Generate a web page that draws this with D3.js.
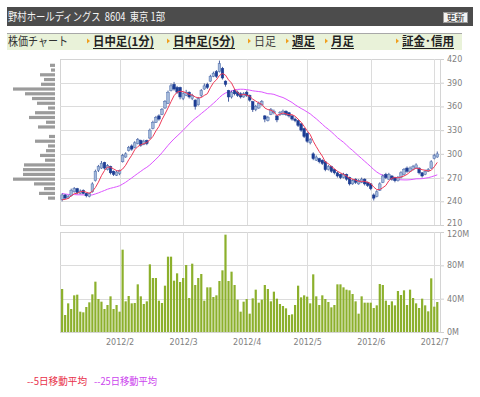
<!DOCTYPE html>
<html><head><meta charset="utf-8">
<script src="https://cdn.jsdelivr.net/npm/d3@7"></script>
<style>body{margin:0;background:#fff;} svg{display:block;}</style>
</head><body><svg id="c" width="480" height="397"></svg>
<script>
// ---- data ----
const prevCloses = [262,258,255,260,257,254,252,256,253,250,248,251,249,246,244,247,250,252,248,245,242,240,238,242];
const opens = [242,248,244,247,252,256,250,254,250,246,252,266,279,282,289,280,284,278,273,275,
  290,296,304,310,308,313,317,312,317,320,332,340,348,350,358,364,380,388,384,384,
  370,374,378,370,368,362,374,382,388,392,398,404,404,408,392,380,372,380,378,376,
  372,378,374,366,356,358,362,348,342,350,352,348,350,350,354,352,348,344,342,338,
  332,326,314,300,292,294,292,290,280,284,280,276,274,270,274,270,262,268,262,264,
  268,264,262,248,246,254,264,274,268,272,270,266,270,274,282,278,280,282,282,276,
  274,278,282,294,296];
const highs = [250,249,248,256,258,257,255,255,251,251,264,280,286,291,290,287,285,279,279,280,
  300,302,310,312,316,320,318,318,318,332,342,348,350,358,368,380,389,391,386,385,
  378,381,379,376,369,372,382,389,390,400,404,406,418,410,393,381,380,382,380,378,
  378,380,375,367,362,366,368,349,348,358,356,349,354,356,355,353,349,346,343,339,
  333,327,320,302,298,295,293,291,286,285,281,278,275,276,275,271,268,269,268,270,
  269,265,263,250,254,264,274,276,276,273,271,272,278,282,284,284,286,288,283,277,
  280,282,292,300,303];
const lows = [240,243,243,246,251,249,249,249,245,245,251,265,277,281,280,279,274,272,272,273,
  289,295,303,304,307,312,309,311,311,319,331,339,342,349,357,363,379,380,376,369,
  368,373,370,368,356,361,372,381,382,391,397,396,403,394,385,366,370,374,372,370,
  371,372,366,353,354,357,361,340,341,349,350,340,348,349,348,346,342,340,334,328,
  320,314,312,292,291,288,286,278,279,276,274,270,268,269,266,260,261,262,261,263,
  260,258,254,241,245,253,263,268,267,266,264,265,269,273,276,277,279,281,274,270,
  273,277,281,293,295];
const closes = [248,244,246,254,256,251,253,250,247,250,262,278,284,288,282,285,276,274,277,279,
  298,300,308,306,314,318,311,316,313,330,340,346,344,356,366,378,386,382,378,372,
  376,378,372,374,360,370,380,386,384,398,402,398,414,396,388,372,378,376,374,372,
  376,374,368,356,360,364,366,344,346,356,354,343,352,354,350,348,344,342,336,330,
  322,316,318,294,296,290,288,280,284,278,276,272,270,274,268,262,266,264,266,268,
  262,260,256,244,252,262,272,270,274,268,266,270,276,280,278,282,284,286,276,272,
  278,280,290,298,300];
const volumes = [51.6,20.4,34.4,27.6,44,44.8,24.4,23.6,30,35.6,45.2,60.4,39.6,36.4,27.6,32.4,42.8,27.6,32.4,24.4,
  98.8,36.8,43.2,34.4,34.8,57.2,42.8,33.6,36.8,81.2,64.8,64.8,37.6,34.8,55.6,90.4,90.4,61.6,70.4,60,
  64.8,80.4,40.8,82,56.4,64.8,69.6,37.6,53.6,53.6,42,44,61.2,74,116.8,61.2,72.4,56.4,38.8,24.4,
  36.4,39.6,22,40.4,50.8,35.2,38.8,56.4,51.6,36.8,48.4,40,33.6,31.2,28.4,20.4,21.2,32.4,55.6,41.6,
  44,42.4,34.4,69.2,42.8,32.4,44,39.6,36,29.6,32.4,57.2,57.2,53.6,50.8,50,45.6,36.8,22,42.8,
  35.2,35.2,35.2,28.8,32,57.6,56.4,37.6,32.4,36.8,32,49.2,44.4,50,32.4,50.8,40.8,34.4,28.8,40,
  32,24.8,64.4,30.4,36];
const monthTickIndex = [19,40,61,81,102,123];
const monthTickLabels = ["2012/2","2012/3","2012/4","2012/5","2012/6","2012/7"];
const priceTicks = [210,240,270,300,330,360,390,420];
const volumeTicks = [0,40,80,120];
const profilePrices = [412,406,400,394,388,382,376,370,364,358,352,346,340,334,328,322,316,310,304,298,292,286,280,274,268,262,256,250,244];
const profileVolumes = [5,4,15,11,14,42,30,23,18,7,20,26,9,17,0,6,20,7,9,15,10,31,32,32,42,21,11,16,7];
const titleText = "野村ホールディングス  8604  東京 1部";
const navItems = ["日中足(1分)","日中足(5分)","日足","週足","月足","証金･信用"];
const legendLabels = ["--5日移動平均","--25日移動平均"];

// ---- layout ----
const svg = d3.select("#c");
const FONT = '"Noto Sans CJK JP","Noto Sans",sans-serif';
const AX = '"DejaVu Sans",sans-serif';
const L = 60, R = 441;
const pTop = 59, pBot = 225, vTop = 232, vBot = 332;

// header
svg.append("rect").attr("x",7).attr("y",7).attr("width",466).attr("height",19).attr("fill","#4c4c4c");
svg.append("text").attr("x",8).attr("y",21).attr("fill","#f4f4f4")
  .attr("font-family",FONT).attr("font-size",11.5).attr("xml:space","preserve")
  .attr("textLength",157).attr("lengthAdjust","spacingAndGlyphs").text(titleText);
svg.append("rect").attr("x",443.5).attr("y",12.5).attr("width",24).attr("height",10)
  .attr("fill","#f2f2f2").attr("stroke","#999");
svg.append("text").attr("x",455.5).attr("y",21).attr("text-anchor","middle").attr("font-family",FONT)
  .attr("font-size",9).attr("fill","#222").text("更新");

// nav bar
svg.append("rect").attr("x",7).attr("y",33).attr("width",455).attr("height",17).attr("fill","#e9f2d9");
svg.append("line").attr("x1",7).attr("x2",462).attr("y1",33.5).attr("y2",33.5).attr("stroke","#a8a8a8");
svg.append("text").attr("x",8).attr("y",46).attr("font-family",FONT).attr("font-size",12)
  .attr("fill","#333").attr("textLength",60).attr("lengthAdjust","spacingAndGlyphs").text("株価チャート");
const navX = [93,173,254,292,331,402];
const navW = [61,62,22,23,23,52];
const navLink = [true,true,false,true,true,true];
navItems.forEach((t,k)=>{
  svg.append("path").attr("d",`M${navX[k]-6},${38.5}L${navX[k]-3},${41}L${navX[k]-6},${43.5}Z`).attr("fill","#f0a020");
  svg.append("text").attr("x",navX[k]).attr("y",46).attr("font-family",FONT).attr("font-size",12)
    .attr("font-weight",navLink[k]?"bold":"normal").attr("fill",navLink[k]?"#222":"#444")
    .attr("textLength",navW[k]).attr("lengthAdjust","spacingAndGlyphs").text(t);
  if(navLink[k]) svg.append("line").attr("x1",navX[k]).attr("x2",navX[k]+navW[k])
    .attr("y1",48.5).attr("y2",48.5).attr("stroke","#222").attr("stroke-width",1);
});

// scales
const n = closes.length;
const x = d3.scaleLinear().domain([-0.7, n - 0.1]).range([L, 440]);
const y = d3.scaleLinear().domain([210,420]).range([pBot,pTop]);
const yv = d3.scaleLinear().domain([0,120]).range([vBot,vTop]);
const pw = d3.scaleLinear().domain([0,42]).range([0,42]);

// panels
const grid = "#dcdcdc";
[[pTop,pBot],[vTop,vBot]].forEach(([t,b])=>{
  svg.append("rect").attr("x",L+0.5).attr("y",t+0.5).attr("width",R-L-1).attr("height",b-t)
    .attr("fill","#fff").attr("stroke","#d4d4d4");
  svg.append("g").selectAll("line").data(monthTickIndex).join("line")
    .attr("x1",d=>Math.round(x(d))+0.5).attr("x2",d=>Math.round(x(d))+0.5)
    .attr("y1",t).attr("y2",b).attr("stroke",grid);
});
svg.append("g").selectAll("line").data(priceTicks.slice(1,-1)).join("line")
  .attr("x1",L).attr("x2",R).attr("y1",d=>Math.round(y(d))+0.5).attr("y2",d=>Math.round(y(d))+0.5).attr("stroke",grid);
svg.append("g").selectAll("line").data(volumeTicks.slice(1,-1)).join("line")
  .attr("x1",L).attr("x2",R).attr("y1",d=>Math.round(yv(d))+0.5).attr("y2",d=>Math.round(yv(d))+0.5).attr("stroke",grid);

// axes
function styleAxis(g){
  g.select(".domain").remove();
  g.selectAll(".tick line").attr("stroke","#cfcfcf");
  g.selectAll("text").attr("fill","#808080").attr("font-family",AX).attr("font-size",8);
}
const pAx = svg.append("g").attr("transform",`translate(${R},0)`)
  .call(d3.axisRight(y).tickValues(priceTicks).tickSize(3).tickPadding(3)).call(styleAxis);
pAx.selectAll(".tick").filter(d=>d===210).select("text").attr("dy","0.1em");
const vAx = svg.append("g").attr("transform",`translate(${R},0)`)
  .call(d3.axisRight(yv).tickValues(volumeTicks).tickFormat(d=>d+"M").tickSize(3).tickPadding(3)).call(styleAxis);
vAx.selectAll(".tick").filter(d=>d===120).select("text").attr("dy","0.55em");
svg.append("g").attr("transform",`translate(0,${vBot})`)
  .call(d3.axisBottom(x).tickValues(monthTickIndex).tickFormat((d,k)=>monthTickLabels[k]).tickSize(0).tickPadding(7))
  .call(styleAxis);

// volume profile
svg.append("g").selectAll("rect").data(profilePrices).join("rect")
  .attr("x",(d,k)=>55-pw(profileVolumes[k])).attr("width",(d,k)=>pw(profileVolumes[k]))
  .attr("y",d=>y(d)-1.6).attr("height",3.2).attr("fill","#9b9b9b");

// moving averages
const all = prevCloses.concat(closes);
const off = prevCloses.length;
function ma(p){ return closes.map((c,i)=>d3.mean(all.slice(off+i-p+1, off+i+1))); }
const ma5 = ma(5), ma25 = ma(25);
const line = d3.line().x((d,i)=>x(i)).y(d=>y(d));
svg.append("path").attr("d",line(ma25)).attr("fill","none").attr("stroke","#dd55ff").attr("stroke-width",1);

// candles
const cg = svg.append("g");
closes.forEach((c,i)=>{
  const o = opens[i], up = c >= o;
  const xc = x(i);
  cg.append("line").attr("x1",xc).attr("x2",xc).attr("y1",y(highs[i])).attr("y2",y(lows[i]))
    .attr("stroke","#1e3a88").attr("stroke-width",0.8);
  const top = y(Math.max(o,c)), bot = y(Math.min(o,c));
  cg.append("rect").attr("x",xc-1.3).attr("width",2.6).attr("y",top).attr("height",Math.max(1,bot-top))
    .attr("fill",up?"#a3b8d9":"#1d3d94").attr("stroke",up?"#4f6fae":"#1d3d94").attr("stroke-width",0.5);
});
svg.append("path").attr("d",line(ma5)).attr("fill","none").attr("stroke","#ee3a58").attr("stroke-width",1);

// volume bars
svg.append("g").selectAll("rect").data(volumes).join("rect")
  .attr("x",(d,i)=>x(i)-1.1).attr("width",2.2).attr("y",d=>yv(d)).attr("height",d=>yv(0)-yv(d))
  .attr("fill","#8cb02c");

// legend
svg.append("text").attr("x",27).attr("y",384.5).attr("font-family",FONT).attr("font-size",10)
  .attr("fill","#e8304a").attr("textLength",60).attr("lengthAdjust","spacingAndGlyphs").text(legendLabels[0]);
svg.append("text").attr("x",94).attr("y",384.5).attr("font-family",FONT).attr("font-size",10)
  .attr("fill","#cc44ee").attr("textLength",63).attr("lengthAdjust","spacingAndGlyphs").text(legendLabels[1]);
</script></body></html>
